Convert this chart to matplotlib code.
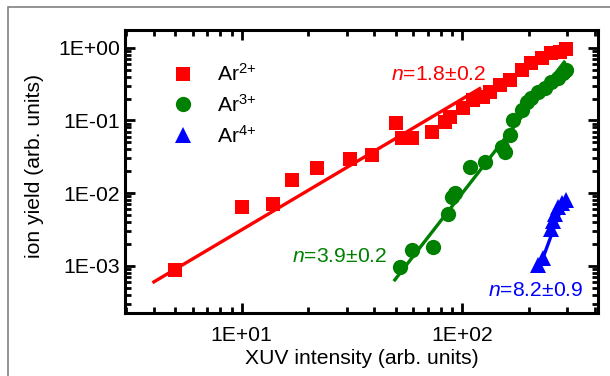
import matplotlib
matplotlib.use('Agg')
import matplotlib.pyplot as plt
from matplotlib.patches import Rectangle
from matplotlib.ticker import LogLocator, FuncFormatter, NullFormatter
import numpy as np

plt.rcParams['font.family'] = ['Liberation Sans', 'DejaVu Sans']
plt.rcParams['mathtext.fontset'] = 'custom'
plt.rcParams['mathtext.rm'] = 'Liberation Sans'
plt.rcParams['mathtext.it'] = 'Liberation Sans:italic'

# Ar2+ yield vs XUV intensity
ar2_x = [5.0, 10, 13.9, 16.9, 22.0, 31.0, 39.0, 50.1, 53.1, 59.0, 73.2, 83.5, 88.0,
         101, 112, 124, 133, 148, 165, 186, 206, 229, 254, 277, 297]
ar2_y = [0.00088, 0.0065, 0.0071, 0.0151, 0.0219, 0.0294, 0.0334, 0.0912, 0.0567,
         0.0567, 0.070, 0.096, 0.112, 0.147, 0.191, 0.212, 0.246, 0.307, 0.360,
         0.493, 0.610, 0.715, 0.838, 0.881, 0.95]

# Ar3+
ar3_x = [52.3, 59.0, 74.0, 86.5, 89.6, 92.7, 108, 127, 151, 156, 165, 170, 186,
         196, 206, 221, 237, 254, 272, 287, 297]
ar3_y = [0.00095, 0.00165, 0.00183, 0.0051, 0.0088, 0.0099, 0.0231, 0.0270, 0.0435,
         0.0371, 0.063, 0.101, 0.139, 0.181, 0.201, 0.248, 0.277, 0.341, 0.379,
         0.444, 0.494]

# Ar4+
ar4_x = [221, 233, 252, 258, 263, 272, 283, 297]
ar4_y = [0.00103, 0.00127, 0.0032, 0.0041, 0.0052, 0.0064, 0.0073, 0.0080]

# power-law fits: y = a * x**n
fits = {
    'ar2': dict(n=1.8, a=4.95e-5, xr=(4.0, 120.0), color='#ff0000'),
    'ar3': dict(n=3.9, a=6.4e-4 / 49.5 ** 3.9, xr=(49.5, 290.0), color='#008000'),
    'ar4': dict(n=8.2, a=8.5e-4 / 221 ** 8.2, xr=(221.0, 290.0), color='#0000ff'),
}
labels = {'ar2': '$n$=1.8±0.2', 'ar3': '$n$=3.9±0.2', 'ar4': '$n$=8.2±0.9'}

FS = 15.2

fig = plt.figure(figsize=(6.1, 3.76), dpi=100)
# grey outer frame of the panel
fig.patches.append(Rectangle((8 / 610, -0.1), 1.2, (376 - 7) / 376 + 0.1,
                             transform=fig.transFigure, fill=False,
                             edgecolor='#808080', linewidth=1.2))
ax = fig.add_axes([0.205, 0.1668, 0.775, 0.7547])

for f in fits.values():
    xx = np.logspace(np.log10(f['xr'][0]), np.log10(f['xr'][1]), 50)
    ax.plot(xx, f['a'] * xx ** f['n'], color=f['color'], lw=2.4, zorder=2)

ax.plot(ar2_x, ar2_y, 's', color='#ff0000', ms=10.5, mew=0, label='Ar$^{2{+}}$', zorder=3)
ax.plot(ar3_x, ar3_y, 'o', color='#008000', ms=11, mew=0, label='Ar$^{3{+}}$', zorder=3)
ax.plot(ar4_x, ar4_y, '^', color='#0000ff', ms=11, mew=0, label='Ar$^{4{+}}$', zorder=3)

ax.set_xscale('log')
ax.set_yscale('log')
ax.set_xlim(2.96, 412)
ax.set_ylim(2.22e-4, 1.78)

fmt = FuncFormatter(lambda v, p: f"{v:.0E}")
ax.xaxis.set_major_locator(LogLocator(base=10, numticks=10))
ax.yaxis.set_major_locator(LogLocator(base=10, numticks=10))
ax.xaxis.set_minor_locator(LogLocator(base=10, subs=np.arange(2, 10), numticks=20))
ax.yaxis.set_minor_locator(LogLocator(base=10, subs=np.arange(2, 10), numticks=20))
ax.xaxis.set_major_formatter(fmt)
ax.yaxis.set_major_formatter(fmt)
ax.xaxis.set_minor_formatter(NullFormatter())
ax.yaxis.set_minor_formatter(NullFormatter())

ax.tick_params(which='both', direction='in', top=True, right=True, labelsize=FS, color='black')
ax.tick_params(which='major', length=7, width=2)
ax.tick_params(which='minor', length=4, width=2)
ax.tick_params(axis='x', pad=9)
for s in ax.spines.values():
    s.set_linewidth(2.2)

ax.set_xlabel('XUV intensity (arb. units)', fontsize=FS, labelpad=3)
ax.set_ylabel('ion yield (arb. units)', fontsize=FS)
ax.yaxis.set_label_coords(-0.172, 0.52)

# exponent labels, placed in figure pixels
label_pos = {'ar2': (391, 75), 'ar3': (292, 257), 'ar4': (488, 290)}
for k, (px, py) in label_pos.items():
    ax.annotate(labels[k], xy=(px / 610, 1 - py / 376), xycoords='figure fraction',
                fontsize=FS, color=fits[k]['color'], va='center', ha='left')

ax.legend(loc='upper left', bbox_to_anchor=(0.10, 0.882), frameon=False, fontsize=FS,
          handlelength=1.0, handletextpad=1.1, labelspacing=0.42, borderpad=0,
          borderaxespad=0)

fig.savefig('out.png', dpi=100)
